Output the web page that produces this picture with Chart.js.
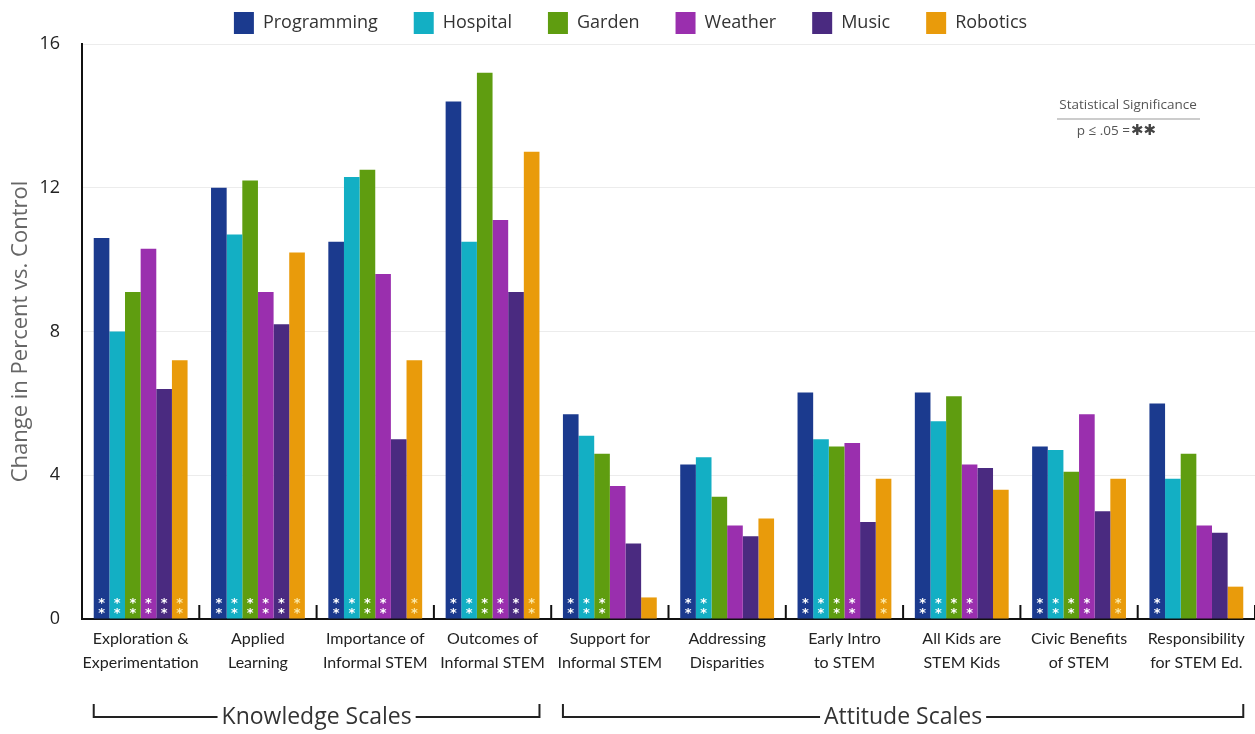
<!DOCTYPE html>
<html>
<head>
<meta charset="utf-8">
<script src="https://cdn.jsdelivr.net/npm/chart.js@4/dist/chart.umd.min.js"></script>
<style>
  html,body{margin:0;padding:0;background:#fff;}
  #wrap{width:1255px;height:734px;position:relative;}
</style>
</head>
<body>
<div id="wrap"><canvas id="chart"></canvas></div>
<script>
// ─── DATA ───────────────────────────────────────────────────────────
const CATEGORIES = [
  ['Exploration &','Experimentation'],
  ['Applied','Learning'],
  ['Importance of','Informal STEM'],
  ['Outcomes of','Informal STEM'],
  ['Support for','Informal STEM'],
  ['Addressing','Disparities'],
  ['Early Intro','to STEM'],
  ['All Kids are','STEM Kids'],
  ['Civic Benefits','of STEM'],
  ['Responsibility','for STEM Ed.']
];
const SERIES = ['Programming','Hospital','Garden','Weather','Music','Robotics'];
const COLORS = ['#1b3a8e','#13afc4','#5f9d10','#9a2fae','#4a2a80','#e99b0b'];
const STAR_COLORS = ['#ffffff','#ffffff','#ffffff','#ffffff','#ffffff','#fce9a6'];

const PROGRAMMING = [10.6, 12.0, 10.5, 14.4, 5.7, 4.3, 6.3, 6.3, 4.8, 6.0];
const HOSPITAL    = [ 8.0, 10.7, 12.3, 10.5, 5.1, 4.5, 5.0, 5.5, 4.7, 3.9];
const GARDEN      = [ 9.1, 12.2, 12.5, 15.2, 4.6, 3.4, 4.8, 6.2, 4.1, 4.6];
const WEATHER     = [10.3,  9.1,  9.6, 11.1, 3.7, 2.6, 4.9, 4.3, 5.7, 2.6];
const MUSIC       = [ 6.4,  8.2,  5.0,  9.1, 2.1, 2.3, 2.7, 4.2, 3.0, 2.4];
const ROBOTICS    = [ 7.2, 10.2,  7.2, 13.0, 0.6, 2.8, 3.9, 3.6, 3.9, 0.9];
const VALUES = [PROGRAMMING, HOSPITAL, GARDEN, WEATHER, MUSIC, ROBOTICS];

// p <= .05 flags, one row per series
const SIG_PROGRAMMING = [1,1,1,1,1,1,1,1,1,1];
const SIG_HOSPITAL    = [1,1,1,1,1,1,1,1,1,0];
const SIG_GARDEN      = [1,1,1,1,1,0,1,1,1,0];
const SIG_WEATHER     = [1,1,1,1,0,0,1,1,1,0];
const SIG_MUSIC       = [1,1,0,1,0,0,0,0,0,0];
const SIG_ROBOTICS    = [1,1,1,1,0,0,1,0,1,0];
const SIG = [SIG_PROGRAMMING, SIG_HOSPITAL, SIG_GARDEN, SIG_WEATHER, SIG_MUSIC, SIG_ROBOTICS];

const Y_TICKS = [0, 4, 8, 12, 16];
const GROUPS = [
  {label:'Knowledge Scales', from:0, to:3},
  {label:'Attitude Scales',  from:4, to:9}
];

const FONT = "'Open Sans', 'Noto Sans', sans-serif";
const NARROW = "Lato, 'Open Sans', sans-serif";

// ─── PLUGINS ────────────────────────────────────────────────────────
const decorations = {
  id:'decorations',
  afterDatasetsDraw(chart){
    const {ctx, chartArea:a, scales:{x}} = chart;
    ctx.save();
    // significance asterisks at the foot of each bar
    ctx.font = "bold 13px 'DejaVu Sans', sans-serif";
    ctx.textAlign = 'center';
    ctx.textBaseline = 'middle';
    chart.data.datasets.forEach((ds, di) => {
      const meta = chart.getDatasetMeta(di);
      meta.data.forEach((bar, i) => {
        if(!SIG[di][i]) return;
        ctx.fillStyle = STAR_COLORS[di];
        ctx.fillText('*', bar.x, a.bottom - 15);
        ctx.fillText('*', bar.x, a.bottom - 5);
      });
    });
    // category separator ticks
    const step = x.getPixelForValue(1) - x.getPixelForValue(0);
    ctx.strokeStyle = '#111';
    ctx.lineWidth = 2;
    for(let i = 1; i <= CATEGORIES.length; i++){
      const px = x.getPixelForValue(i) - step/2;
      ctx.beginPath();
      ctx.moveTo(px, a.bottom - 14);
      ctx.lineTo(px, a.bottom);
      ctx.stroke();
    }
    // group brackets
    const firstMeta = chart.getDatasetMeta(0);
    const lastMeta = chart.getDatasetMeta(SERIES.length - 1);
    const by = chart.height - 17;
    ctx.font = '23px ' + FONT;
    GROUPS.forEach(g => {
      const b0 = firstMeta.data[g.from], b1 = lastMeta.data[g.to];
      const l = b0.x - b0.width/2, r = b1.x + b1.width/2;
      ctx.strokeStyle = '#222';
      ctx.lineWidth = 2;
      ctx.beginPath();
      ctx.moveTo(l, by - 13); ctx.lineTo(l, by); ctx.lineTo(r, by); ctx.lineTo(r, by - 13);
      ctx.stroke();
      const mid = (l + r)/2;
      const tw = ctx.measureText(g.label).width;
      ctx.fillStyle = '#fff';
      ctx.fillRect(mid - tw/2 - 4, by - 15, tw + 8, 30);
      ctx.fillStyle = '#333';
      ctx.fillText(g.label, mid, by);
    });
    // significance note
    const nx = a.right - 127;
    ctx.font = '13.5px ' + FONT;
    ctx.fillStyle = '#555';
    ctx.fillText('Statistical Significance', nx, 105);
    ctx.strokeStyle = '#999';
    ctx.lineWidth = 1;
    ctx.beginPath(); ctx.moveTo(nx - 71, 119); ctx.lineTo(nx + 72, 119); ctx.stroke();
    ctx.textAlign = 'right';
    ctx.fillText('p \u2264 .05 =', nx + 2, 131);
    ctx.textAlign = 'left';
    ctx.font = "bold 15px 'DejaVu Sans', sans-serif";
    ctx.fillStyle = '#444';
    ctx.fillText('\u2731\u2731', nx + 3, 131);
    ctx.restore();
  }
};

// ─── CHART ──────────────────────────────────────────────────────────
new Chart(document.getElementById('chart'), {
  type:'bar',
  data:{
    labels:CATEGORIES,
    datasets:SERIES.map((name, i) => ({
      label:name,
      data:VALUES[i],
      backgroundColor:COLORS[i],
      borderWidth:0,
      categoryPercentage:0.8,
      barPercentage:1.0
    }))
  },
  options:{
    responsive:true,
    maintainAspectRatio:false,
    animation:false,
    layout:{padding:{left:6, right:0, top:-24, bottom:59}},
    plugins:{
      legend:{
        position:'top',
        labels:{
          color:'#333',
          font:{size:18, family:FONT},
          boxWidth:20,
          boxHeight:22,
          padding:36
        }
      },
      tooltip:{enabled:false}
    },
    scales:{
      x:{
        grid:{display:false},
        border:{color:'#111', width:2},
        ticks:{color:'#222', font:{size:16, family:NARROW, lineHeight:1.5}, padding:0, maxRotation:0, autoSkip:false}
      },
      y:{
        min:0, max:16,
        afterBuildTicks(axis){ axis.ticks = Y_TICKS.map(v => ({value:v})); },
        afterFit(axis){ axis.width = 76; },
        grid:{color:'#ececec', drawTicks:false},
        border:{color:'#111', width:2},
        ticks:{color:'#222', font:{size:18, family:FONT}, padding:22},
        title:{display:true, text:'Change in Percent vs. Control', color:'#666', font:{size:22, family:FONT}, padding:{top:2, bottom:0}}
      }
    }
  },
  plugins:[decorations]
});
</script>
</body>
</html>
